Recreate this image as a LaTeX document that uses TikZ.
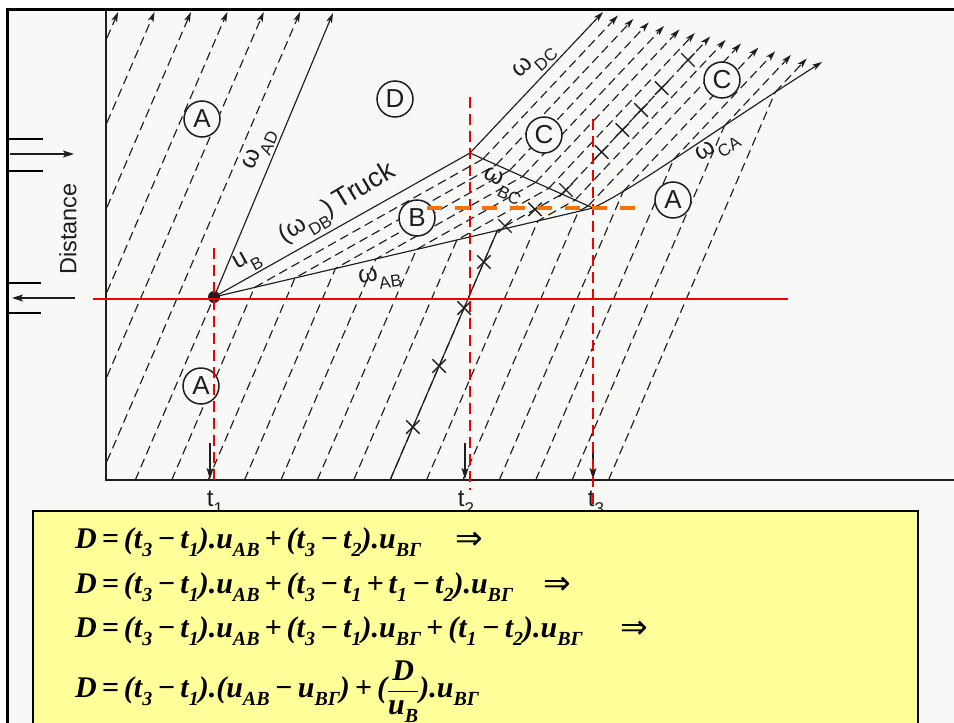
\documentclass[tikz,border=0pt]{standalone}
\usepackage{fontspec}
\usepackage{graphicx}
\setmainfont{Liberation Serif}
\newfontfamily\lsans{Liberation Sans}
\newfontfamily\djsans{DejaVu Sans}
\usetikzlibrary{arrows.meta,shapes.misc}

\definecolor{scanbg}{RGB}{248,248,246}
\definecolor{ink}{RGB}{30,30,30}
\definecolor{boxyellow}{RGB}{255,255,153}
\definecolor{orng}{RGB}{245,115,10}
\definecolor{redln}{RGB}{238,0,0}

\newcommand\lsub[1]{\raisebox{-0.38em}{\fontsize{17}{17}\selectfont #1}}
\newcommand\tsub[1]{\raisebox{-0.35em}{\fontsize{17}{17}\selectfont #1}}
\newcommand\esub[1]{\raisebox{-0.28em}{\fontsize{20}{20}\selectfont #1}}
\newcommand\eqfont{\fontsize{30}{34}\selectfont\bfseries\itshape}
\newcommand\bop[1]{\hspace{5pt}#1\hspace{5pt}}

\begin{document}
\begin{tikzpicture}[x=1pt,y=-1pt,
  traj/.style={ink, line width=1.15pt, dash pattern=on 9pt off 5pt},
  tip/.style={-{Stealth[length=10pt,width=6pt,inset=2.5pt]}},
  trajarrow/.style={traj, tip},
  shock/.style={ink, line width=1.15pt},
  lab/.style={font=\lsans\fontsize{25}{25}\selectfont, text=ink, inner sep=0pt},
  circ/.style={circle, draw=ink, line width=1.5pt, minimum size=36pt, inner sep=0pt,
    fill=scanbg, font=\lsans\fontsize{26}{26}\selectfont, text=ink},
  tl/.style={font=\lsans\fontsize{24}{24}\selectfont, text=ink, inner sep=0pt, anchor=base},
  xmark/.style={cross out, draw=ink, line width=1.4pt, minimum size=12pt, inner sep=0pt},
  reddash/.style={redln, line width=2.4pt, dash pattern=on 11pt off 6pt},
  eqn/.style={anchor=base west, inner sep=0pt, font=\eqfont},
  impl/.style={anchor=base west, inner sep=0pt, font=\djsans\fontsize{33}{33}\selectfont},
  tarrow/.style={ink, line width=1.1pt, -{Stealth[length=11pt,width=7pt,inset=2.5pt]}}
]
\useasboundingbox (0,0) rectangle (954,723);
\fill[white] (0,0) rectangle (954,723);
\fill[scanbg] (7,9) rectangle (954,723);

% frame
\draw[black, line width=2.6pt] (7.2,723) -- (7.2,9.3) -- (954,9.3);

% axes
\draw[ink, line width=1.3pt] (106,11) -- (106,480) -- (954,480);

% direction marks at left
\draw[black, line width=2.4pt] (7,139) -- (43,139) (7,171) -- (43,171)
  (7,283) -- (41,283) (7,313) -- (41,313);
\coordinate (ar1s) at (10,154); \coordinate (ar1e) at (74,154);
\coordinate (ar2s) at (75,298); \coordinate (ar2e) at (12,298);
\draw[tarrow] (ar1s) -- (ar1e);
\draw[tarrow] (ar2s) -- (ar2e);
\node[rotate=90, font=\lsans\fontsize{23.5}{24}\selectfont, text=ink] (dist) at (68,229) {Distance};

% key points
\coordinate (P) at (214,297);
\coordinate (J) at (470,153);
\coordinate (Q) at (593,208);
\coordinate (Ead) at (333,13);
\coordinate (Edc) at (603,12);
\coordinate (Eca) at (822,62);

% trajectories, region A upper left
\foreach \nn in {-6,...,-1} {
  \pgfmathsetmacro\cc{214+36.4*\nn}
  \pgfmathsetmacro\ys{297-(107-\cc)/0.43}
  \pgfmathsetmacro\xe{\cc+0.43*285}
  \draw[trajarrow] (107,\ys) -- (\xe,12);
}
\draw[traj] (135.3,480) -- (P);

% trajectories A -> B -> C
\foreach \nn in {1,...,9} {
  \pgfmathsetmacro\cc{214+36.4*\nn}
  \pgfmathsetmacro\xb{\cc-0.43*183}
  \pgfmathsetmacro\ue{40.488*\nn}
  \pgfmathsetmacro\xa{214+\ue}
  \pgfmathsetmacro\ya{297-0.23483*\ue}
  \pgfmathsetmacro\xs{470+13.14*\nn}
  \pgfmathsetmacro\ys{153+5.876*\nn}
  \pgfmathsetmacro\ye{(12+0.2283*(\xs+0.94*\ys-603))/1.2146}
  \pgfmathsetmacro\xe{\xs+0.94*(\ys-\ye)}
  \draw[traj] (\xb,480) -- (\xa,\ya) -- (\xs,\ys);
  \draw[trajarrow] (\xs,\ys) -- (\xe,\ye);
}
% trajectories A -> C
\foreach \xb/\xs/\ys in {499.3/623.2/191.4, 535.7/673.6/159.4, 572.1/724.4/125.8, 608.5/775.3/92.0} {
  \pgfmathsetmacro\ye{(12+0.2283*(\xs+0.94*\ys-603))/1.2146}
  \pgfmathsetmacro\xe{\xs+0.94*(\ys-\ye)}
  \draw[traj] (\xb,480) -- (\xs,\ys);
  \draw[trajarrow] (\xs,\ys) -- (\xe,\ye);
}
% observed vehicle (solid in A)
\draw[shock] (390.1,480) -- (497.4,230.45);

% shock waves and truck
\draw[shock, tip] (P) -- (Ead);
\draw[shock] (P) -- (J) -- (Q);
\draw[shock] (P) -- (Q);
\draw[shock, tip] (J) -- (Edc);
\draw[shock, tip] (Q) .. controls (640,185) and (700,140) .. (Eca);
\fill[ink] (P) circle (6pt);

% labels
\node[lab, rotate=67] (lAD) at (260,150) {ω\lsub{AD}};
\node[lab, rotate=29] (lB) at (248,262) {u\lsub{B}};
\node[lab, rotate=31] (lTruck) at (338,205) {(ω\lsub{DB})\hspace{5pt}{\fontsize{27}{27}\selectfont Truck}};
\node[lab, rotate=9] (lAB) at (380,278) {ω\lsub{AB}};
\node[lab, rotate=-27] (lBC) at (503,186) {ω\lsub{BC}};
\node[lab, rotate=42] (lDC) at (535,62) {ω\lsub{DC}};
\node[lab, rotate=33] (lCA) at (718,148) {ω\lsub{CA}};

% circled regions
\node[circ] (cA1) at (202,119) {A};
\node[circ] (cD) at (395,99) {D};
\node[circ] (cA2) at (201,386) {A};
\node[circ] (cB) at (417,218) {B};
\node[circ] (cC1) at (544,135) {C};
\node[circ] (cC2) at (722,80) {C};
\node[circ] (cA3) at (673,200) {A};

% X marks along the observed vehicle
\foreach \px/\py [count=\i] in {412.9/427, 439.1/366, 464.1/308, 483.9/262, 505/226, 535/209.3,
   566/190, 601.6/152, 622.3/130, 641.1/110, 661.7/88, 688/60} {
  \node[xmark] (xm\i) at (\px,\py) {};
}

% time marks
\coordinate (ta1) at (210,443); \coordinate (tb1) at (210,479);
\coordinate (ta2) at (465,443); \coordinate (tb2) at (465,479);
\coordinate (ta3) at (593,443); \coordinate (tb3) at (593,479);
\draw[tarrow] (ta1) -- (tb1);
\draw[tarrow] (ta2) -- (tb2);
\draw[tarrow] (ta3) -- (tb3);
\node[tl] (t1) at (215,506) {t\tsub{1}};
\node[tl] (t2) at (466,506) {t\tsub{2}};
\node[tl] (t3) at (596,506) {t\tsub{3}};

% red and orange overlays
\draw[redln, line width=2.2pt] (93,299) -- (788,299);
\draw[reddash] (214,248) -- (214,480);
\draw[reddash] (470,97) -- (470,490);
\draw[reddash] (593,119) -- (593,511);
\draw[orng, line width=3.2pt, dash pattern=on 15pt off 12.5pt] (427,208) -- (637,208);

% formula box
\draw[black, line width=1.2pt, fill=boxyellow] (33,730) -- (33,511) -- (918,511) -- (918,730);
\node[eqn] (e1) at (75,548) {D\bop{=}(t\esub{3}\bop{−}t\esub{1}).u\esub{AB}\bop{+}(t\esub{3}\bop{−}t\esub{2}).u\esub{BΓ}};
\node[eqn] (e2) at (75,593) {D\bop{=}(t\esub{3}\bop{−}t\esub{1}).u\esub{AB}\bop{+}(t\esub{3}\bop{−}t\esub{1}\bop{+}t\esub{1}\bop{−}t\esub{2}).u\esub{BΓ}};
\node[eqn] (e3) at (75,637) {D\bop{=}(t\esub{3}\bop{−}t\esub{1}).u\esub{AB}\bop{+}(t\esub{3}\bop{−}t\esub{1}).u\esub{BΓ}\bop{+}(t\esub{1}\bop{−}t\esub{2}).u\esub{BΓ}};
\node[eqn] (e4) at (75,697) {D\bop{=}(t\esub{3}\bop{−}t\esub{1}).(u\esub{AB}\bop{−}u\esub{BΓ})\bop{+}($\displaystyle\frac{\hbox{D}}{\hbox{u\esub{B}}}$).u\esub{BΓ}};
\node[impl] (i1) at (455,549) {⇒};
\node[impl] (i2) at (543,594) {⇒};
\node[impl] (i3) at (620,638) {⇒};
\end{tikzpicture}
\end{document}
